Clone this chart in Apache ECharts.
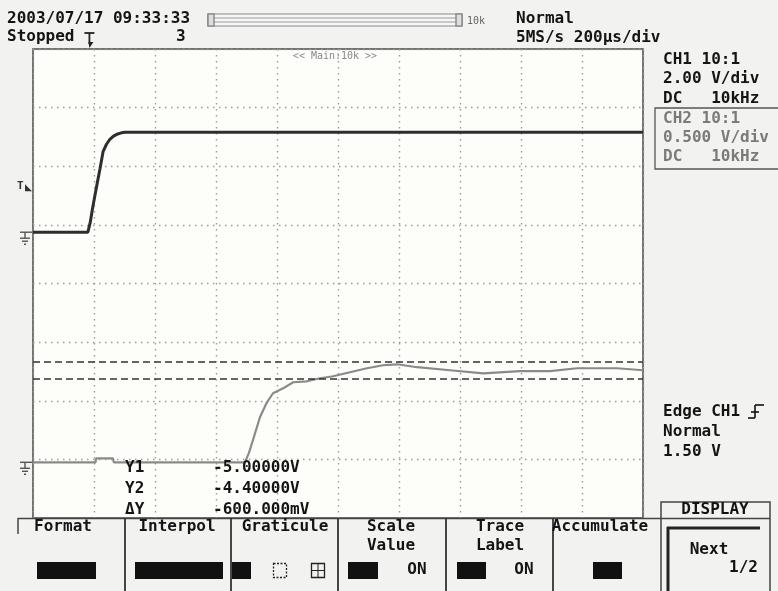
<!DOCTYPE html>
<html>
<head>
<meta charset="utf-8">
<script src="https://cdn.jsdelivr.net/npm/echarts@6/dist/echarts.min.js"></script>
<style>
  html, body { margin: 0; padding: 0; background: #f2f2f0; }
  #scope { width: 778px; height: 591px; }
</style>
</head>
<body>
<div id="scope"></div>
<script>
// Horizontal: 10 divisions at 200 µs/div
const timeMinUs = 0;
const timeMaxUs = 2000;
const timePerDivUs = 200;

// Channel settings
const ch1VoltsPerDiv = 2.0;
const ch2VoltsPerDiv = 0.5;
const ch1GroundDiv = 0.875;   // CH1 zero-volt level, in divisions from centre
const ch2GroundDiv = -3.05;   // CH2 zero-volt level

// Trigger
const triggerTimeUs = 185;
const triggerLevelVolts = 1.5;

// CH1 trace (volts)
const ch1TimeUs = [0, 180, 188, 195, 203, 210, 220, 230, 241, 252, 264, 275, 290, 302, 2000];
const ch1Volts  = [0, 0, 0.35, 0.8, 1.25, 1.64, 2.18, 2.76, 3.0, 3.17, 3.28, 3.34, 3.39, 3.41, 3.41];

// CH2 trace (volts)
const ch2TimeUs = [0, 205, 207, 262, 265, 695, 708, 721, 744, 767, 787, 820, 853, 898, 941, 984,
                   1039, 1095, 1148, 1194, 1259, 1367, 1476, 1597, 1695, 1784, 1915, 2000];
const ch2Volts  = [0, 0, 0.034, 0.034, 0, 0, 0.08, 0.188, 0.384, 0.512, 0.589, 0.631, 0.683, 0.691, 0.717, 0.734,
                   0.768, 0.802, 0.828, 0.836, 0.811, 0.785, 0.759, 0.777, 0.777, 0.802, 0.802, 0.785];

// Cursors Y1, Y2 measured on the CH1 scale (volts)
const cursorVolts = [-5.0, -4.4];

const MONO = '"DejaVu Sans Mono", "Liberation Mono", monospace';
const INK = '#141414';
const DIM = '#7a7a7a';

const toDiv = (v, ground, vpd) => ground + v / vpd;
const ch1Data = ch1TimeUs.map((t, i) => [t, toDiv(ch1Volts[i], ch1GroundDiv, ch1VoltsPerDiv)]);
const ch2Data = ch2TimeUs.map((t, i) => [t, toDiv(ch2Volts[i], ch2GroundDiv, ch2VoltsPerDiv)]);

const chart = echarts.init(document.getElementById('scope'), null, { renderer: 'canvas' });

const dotted = { color: '#9c9c9c', width: 1.4, type: [1.5, 4.5] };

chart.setOption({
  animation: false,
  backgroundColor: '#f2f2f0',
  grid: {
    show: true, left: 33, top: 49, width: 610, height: 469,
    backgroundColor: '#fdfdfa', borderColor: '#4a4a4a', borderWidth: 1.5
  },
  xAxis: {
    type: 'value', min: timeMinUs, max: timeMaxUs, interval: timePerDivUs,
    axisLine: { show: false }, axisTick: { show: false }, axisLabel: { show: false },
    splitLine: { show: true, lineStyle: dotted }
  },
  yAxis: {
    type: 'value', min: -4, max: 4, interval: 1,
    axisLine: { show: false }, axisTick: { show: false }, axisLabel: { show: false },
    splitLine: { show: true, lineStyle: dotted }
  },
  series: [
    {
      name: 'CH2', type: 'line', data: ch2Data, symbol: 'none', silent: true,
      lineStyle: { color: '#8a8a8a', width: 2.2 }
    },
    {
      name: 'CH1', type: 'line', data: ch1Data, symbol: 'none', silent: true,
      lineStyle: { color: '#2e2e2e', width: 3 },
      markLine: {
        symbol: 'none', silent: true, label: { show: false },
        lineStyle: { type: [7, 4], color: '#333', width: 1.6 },
        data: cursorVolts.map(v => ({ yAxis: toDiv(v, ch1GroundDiv, ch1VoltsPerDiv) }))
      }
    }
  ]
});

const px = (t, d) => chart.convertToPixel({ gridIndex: 0 }, [t, d]);

function txt(text, x, y, o) {
  o = o || {};
  return {
    type: 'text', z: 100,
    style: {
      text: text, x: x, y: y,
      font: (o.weight || 'bold') + ' ' + (o.size || 16) + 'px ' + MONO,
      fill: o.fill || INK,
      align: o.align || 'left', verticalAlign: 'middle'
    }
  };
}
function line(x1, y1, x2, y2, o) {
  o = o || {};
  return {
    type: 'line', z: 100,
    shape: { x1: x1, y1: y1, x2: x2, y2: y2 },
    style: { stroke: o.stroke || '#333', lineWidth: o.w || 1.5, lineDash: o.dash || null }
  };
}
function rect(x, y, w, h, o) {
  o = o || {};
  return {
    type: 'rect', z: 100,
    shape: { x: x, y: y, width: w, height: h },
    style: { fill: o.fill || 'none', stroke: o.stroke || null, lineWidth: o.w || 1, lineDash: o.dash || null }
  };
}
function groundMark(y) {
  return [
    line(20, y, 32, y, { w: 1.4, stroke: '#555' }),
    line(25, y, 25, y + 6, { w: 1.4, stroke: '#555' }),
    line(20, y + 6, 30, y + 6, { w: 1.4, stroke: '#555' }),
    line(22, y + 9, 28, y + 9, { w: 1.4, stroke: '#555' }),
    line(24, y + 12, 26, y + 12, { w: 1.4, stroke: '#555' })
  ];
}

const g = [];

// Header
g.push(txt('2003/07/17 09:33:33', 7, 19));
g.push(txt('Stopped', 7, 37));
g.push(txt('3', 176, 37));
g.push(txt('Normal', 516, 19));
g.push(txt('5MS/s 200\u00b5s/div', 516, 38));

// Zoom-position slider
g.push(rect(208, 14, 254, 12, { stroke: '#8a8a8a', w: 1.2, fill: '#f6f6f6' }));
g.push(line(214, 18, 456, 18, { stroke: '#9a9a9a', w: 1 }));
g.push(line(214, 22, 456, 22, { stroke: '#9a9a9a', w: 1 }));
g.push(rect(208, 14, 6, 12, { stroke: '#777', w: 1.2, fill: '#ddd' }));
g.push(rect(456, 14, 6, 12, { stroke: '#777', w: 1.2, fill: '#ddd' }));
g.push(txt('10k', 467, 21, { size: 10, weight: 'normal', fill: '#666' }));
g.push(txt('<< Main:10k >>', 335, 56, { size: 10, weight: 'normal', fill: '#888', align: 'center' }));

// Trigger position marker
const trigPx = px(triggerTimeUs, 0)[0];
g.push(line(trigPx - 5, 33, trigPx + 5, 33, { w: 1.8, stroke: '#222' }));
g.push(line(trigPx, 33, trigPx, 44, { w: 1.8, stroke: '#222' }));
g.push({ type: 'polygon', z: 100, shape: { points: [[trigPx, 48], [trigPx - 1, 42], [trigPx + 4, 42]] }, style: { fill: '#222' } });

// Trigger level marker
const trigLevelY = px(0, toDiv(triggerLevelVolts, ch1GroundDiv, ch1VoltsPerDiv))[1];
g.push(txt('T', 17, trigLevelY - 2, { size: 11, fill: '#333' }));
g.push({ type: 'polygon', z: 100, shape: { points: [[25, trigLevelY + 3], [32, trigLevelY + 3], [25, trigLevelY - 4]] }, style: { fill: '#333' } });

// Ground markers
groundMark(px(0, ch1GroundDiv)[1]).forEach(e => g.push(e));
groundMark(px(0, ch2GroundDiv)[1]).forEach(e => g.push(e));

// Channel settings panel
g.push(txt('CH1 10:1', 663, 60));
g.push(txt('2.00 V/div', 663, 79));
g.push(txt('DC   10kHz', 663, 99));
g.push(rect(655, 108, 130, 61, { stroke: '#555', w: 1.3 }));
g.push(txt('CH2 10:1', 663, 119, { fill: DIM }));
g.push(txt('0.500 V/div', 663, 138, { fill: DIM }));
g.push(txt('DC   10kHz', 663, 157, { fill: DIM }));

// Trigger settings
g.push(txt('Edge CH1', 663, 412));
g.push(line(748, 418, 755, 418, { w: 1.6, stroke: '#111' }));
g.push(line(755, 418, 755, 405, { w: 1.6, stroke: '#111' }));
g.push(line(755, 405, 764, 405, { w: 1.6, stroke: '#111' }));
g.push(line(751, 412, 759, 412, { w: 1.6, stroke: '#111' }));
g.push(txt('Normal', 663, 432));
g.push(txt(triggerLevelVolts.toFixed(2) + ' V', 663, 452));

// Cursor readout
const dY = cursorVolts[0] - cursorVolts[1];
g.push(txt('Y1', 125, 468));
g.push(txt('Y2', 125, 489));
g.push(txt('\u0394Y', 125, 510));
g.push(txt(cursorVolts[0].toFixed(5) + 'V', 213, 468));
g.push(txt(cursorVolts[1].toFixed(5) + 'V', 213, 489));
g.push(txt((dY * 1000).toFixed(3) + 'mV', 213, 510));

// Soft-key menu
g.push(rect(0, 519, 661, 72, { fill: '#f2f2f0' }));
g.push(line(18, 518.5, 661, 518.5, { w: 1.5, stroke: '#444' }));
g.push(line(18, 518, 18, 534, { w: 1.5, stroke: '#444' }));
[125, 231, 338, 446, 553].forEach(x => g.push(line(x, 518, x, 591, { w: 1.8, stroke: '#333' })));
g.push(txt('Format', 63, 527, { align: 'center' }));
g.push(txt('Interpol', 177, 527, { align: 'center' }));
g.push(txt('Graticule', 285, 527, { align: 'center' }));
g.push(txt('Scale', 391, 527, { align: 'center' }));
g.push(txt('Value', 391, 546, { align: 'center' }));
g.push(txt('Trace', 500, 527, { align: 'center' }));
g.push(txt('Label', 500, 546, { align: 'center' }));
g.push(txt('Accumulate', 600, 527, { align: 'center' }));
g.push(rect(37, 562, 59, 17, { fill: '#111' }));
g.push(rect(135, 562, 88, 17, { fill: '#111' }));
g.push(rect(232, 562, 19, 17, { fill: '#111' }));
g.push(rect(273.5, 563.5, 13, 14, { stroke: '#222', w: 1.3, dash: [2, 1.5] }));
g.push(rect(311.5, 563.5, 13, 14, { stroke: '#222', w: 1.3 }));
g.push(line(318, 564, 318, 577, { w: 1, stroke: '#222' }));
g.push(line(312, 570.5, 324, 570.5, { w: 1, stroke: '#222' }));
g.push(rect(348, 562, 30, 17, { fill: '#111' }));
g.push(txt('ON', 417, 570, { align: 'center' }));
g.push(rect(457, 562, 29, 17, { fill: '#111' }));
g.push(txt('ON', 524, 570, { align: 'center' }));
g.push(rect(593, 562, 29, 17, { fill: '#111' }));

// DISPLAY key
g.push(rect(661, 502, 109, 95, { stroke: '#444', w: 1.5, fill: '#f2f2f0' }));
g.push(line(661, 518.5, 770, 518.5, { w: 1.5, stroke: '#444' }));
g.push(txt('DISPLAY', 715, 510, { align: 'center' }));
g.push(line(667, 528, 760, 528, { w: 3, stroke: '#222' }));
g.push(line(668, 527, 668, 591, { w: 3, stroke: '#222' }));
g.push(txt('Next', 709, 550, { align: 'center' }));
g.push(txt('1/2', 758, 568, { align: 'right' }));

chart.setOption({ graphic: { elements: g } });
</script>
</body>
</html>
